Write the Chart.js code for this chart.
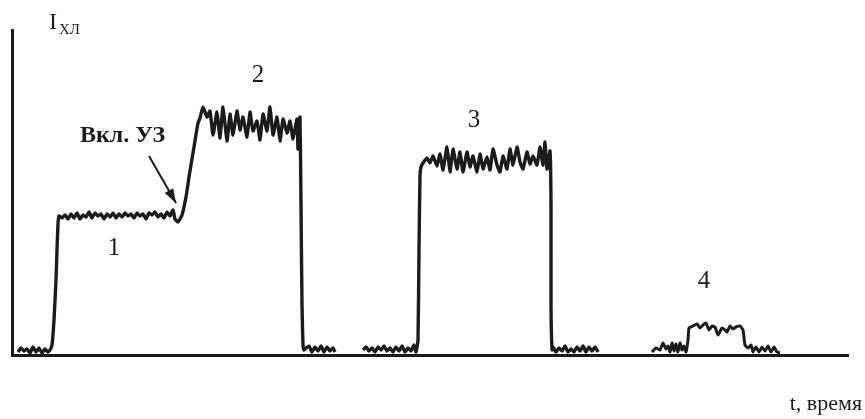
<!DOCTYPE html>
<html>
<head>
<meta charset="utf-8">
<script src="https://cdn.jsdelivr.net/npm/chart.js@4.4.0/dist/chart.umd.min.js"></script>
<style>
  html, body { margin: 0; padding: 0; background: #fff; }
  #wrap { width: 865px; height: 419px; position: relative; }
</style>
</head>
<body>
<div id="wrap"><canvas id="myChart"></canvas></div>
<script>
// trace 1 + 2: baseline, first level (1), ultrasound switched on, second level (2), back to baseline
const tPulse12 = [6, 9, 12, 15, 18, 21, 24, 27, 30, 33, 36, 38, 40, 42, 44, 45, 46, 47, 50, 53, 56, 59, 62, 65, 68, 71, 74, 77, 80, 83, 86, 89, 92, 95, 98, 101, 104, 107, 110, 113, 116, 119, 122, 125, 128, 131, 134, 137, 140, 143, 146, 149, 152, 155, 158, 161, 163, 166, 170, 174, 177, 182, 186, 188,
  191, 195, 198, 201, 205, 208, 211, 215, 218, 221, 225, 228, 231, 235, 238, 241, 245, 248, 251, 255, 258, 261, 265, 268, 271, 275, 278, 281, 285, 286, 288, 289, 290, 291, 292,
  294, 297, 300, 303, 306, 309, 312, 315, 318, 321, 323];
const iPulse12 = [3, 7, 4, 6, 2, 8, 3, 7, 2, 6, 3, 5, 10, 35, 75, 105, 131, 139, 137, 140, 136, 141, 137, 142, 136, 140, 138, 143, 137, 142, 139, 141, 136, 141, 138, 142, 137, 141, 138, 142, 139, 141, 137, 142, 139, 141, 136, 142, 140, 143, 138, 141, 137, 143, 139, 145, 136, 133, 140, 158, 178, 208, 232, 237,
  248, 238, 244, 220, 243, 217, 248, 214, 241, 220, 244, 225, 238, 218, 243, 224, 234, 215, 241, 224, 248, 220, 238, 214, 236, 222, 234, 216, 236, 206, 238, 150, 50, 10, 5,
  7, 9, 3, 8, 4, 9, 3, 8, 4, 7, 3];

// trace 3
const tPulse3 = [351, 354, 357, 360, 363, 366, 369, 372, 375, 378, 381, 384, 387, 390, 393, 396, 399, 402, 404, 406, 407, 408, 409,
  411, 415, 418, 421, 425, 428, 431, 435, 438, 441, 445, 448, 451, 455, 458, 461, 465, 468, 471, 475, 478, 481, 485, 488, 491, 495, 498, 501, 505, 508, 511, 515, 518, 521, 525, 528, 531, 533, 535, 538, 539, 539, 540,
  541, 544, 547, 550, 553, 556, 559, 562, 565, 568, 571, 574, 577, 580, 583, 586];
const iPulse3 = [5, 8, 4, 7, 3, 8, 5, 9, 4, 7, 3, 8, 4, 9, 3, 7, 4, 10, 3, 15, 105, 180, 188,
  192, 197, 192, 199, 189, 201, 185, 208, 183, 206, 186, 203, 183, 203, 188, 199, 183, 201, 186, 198, 185, 206, 190, 183, 199, 186, 206, 190, 208, 193, 186, 203, 191, 199, 190, 208, 190, 213, 186, 204, 150, 50, 5,
  8, 3, 7, 4, 9, 3, 6, 3, 8, 4, 9, 3, 8, 4, 8, 3];

// trace 4
const tPulse4 = [640, 644, 648, 651, 654, 656, 658, 660, 662, 664, 666, 668, 670, 672, 674, 676, 677, 681, 685, 688, 691, 694, 697, 700, 703, 706, 710, 713, 715, 718, 721, 724, 728, 731, 733, 736, 739, 741, 744, 747, 750, 753, 756, 759, 762, 765, 768];
const iPulse4 = [3, 7, 5, 12, 6, 9, 3, 12, 4, 11, 3, 12, 5, 9, 3, 15, 27, 29, 31, 27, 30, 32, 25, 29, 28, 20, 27, 25, 23, 29, 26, 28, 29, 25, 10, 7, 10, 3, 8, 3, 8, 4, 9, 3, 8, 3, 2];

const pulseLabels = ["1", "2", "3", "4"];
const axisNameY = "I";
const axisNameYSub = "ХЛ";
const axisNameX = "t, время";
const switchLabel = "Вкл. УЗ";

function toPoints(ts, is) {
  return ts.map((t, k) => ({ x: t, y: is[k] }));
}

const lineStyle = {
  borderColor: "#1b1b1b",
  borderWidth: 3.4,
  pointRadius: 0,
  tension: 0.15,
  fill: false
};

const data = {
  datasets: [
    { data: toPoints(tPulse12, iPulse12), ...lineStyle },
    { data: toPoints(tPulse3, iPulse3), ...lineStyle },
    { data: toPoints(tPulse4, iPulse4), ...lineStyle, borderWidth: 3 }
  ]
};

// text and arrow, placed in data units
const notes = {
  id: "notes",
  afterDraw(chart) {
    const ctx = chart.ctx;
    const sx = chart.scales.x;
    const sy = chart.scales.y;
    const px = v => sx.getPixelForValue(v);
    const py = v => sy.getPixelForValue(v);

    ctx.save();
    ctx.fillStyle = "#1b1b1b";
    ctx.textBaseline = "alphabetic";

    ctx.font = "25px 'Liberation Serif'";
    ctx.textAlign = "center";
    const spots = [[102, 100], [246, 273], [462, 228], [692, 67]];
    pulseLabels.forEach((s, k) => ctx.fillText(s, px(spots[k][0]), py(spots[k][1])));

    ctx.textAlign = "left";
    ctx.font = "24px 'Liberation Serif'";
    ctx.fillText(axisNameY, 49, 29);
    ctx.font = "15px 'Liberation Serif'";
    ctx.fillText(axisNameYSub, 59, 34);

    ctx.font = "22px 'Liberation Serif'";
    ctx.textAlign = "right";
    ctx.fillText(axisNameX, 862, 410);

    ctx.font = "bold 24px 'Liberation Serif'";
    ctx.textAlign = "left";
    ctx.fillText(switchLabel, 80, 142);

    // arrow to the switch-on point
    const x0 = px(137), y0 = py(199);
    const x1 = px(164), y1 = py(152);
    ctx.strokeStyle = "#1b1b1b";
    ctx.lineWidth = 2;
    ctx.beginPath();
    ctx.moveTo(x0, y0);
    ctx.lineTo(x1, y1);
    ctx.stroke();
    const a = Math.atan2(y1 - y0, x1 - x0);
    ctx.beginPath();
    ctx.moveTo(x1, y1);
    ctx.lineTo(x1 - 15 * Math.cos(a - 0.33), y1 - 15 * Math.sin(a - 0.33));
    ctx.lineTo(x1 - 15 * Math.cos(a + 0.33), y1 - 15 * Math.sin(a + 0.33));
    ctx.closePath();
    ctx.fill();
    ctx.restore();
  }
};

const config = {
  type: "line",
  data,
  options: {
    responsive: true,
    maintainAspectRatio: false,
    animation: false,
    layout: { padding: { left: 12, right: 17, top: 30, bottom: 64 } },
    plugins: { legend: { display: false }, tooltip: { enabled: false } },
    scales: {
      x: {
        type: "linear",
        min: 0,
        max: 836,
        ticks: { display: false },
        grid: { display: false, drawTicks: false },
        border: { display: true, color: "#1b1b1b", width: 3 }
      },
      y: {
        type: "linear",
        min: 0,
        max: 325,
        ticks: { display: false },
        grid: { display: false, drawTicks: false },
        border: { display: true, color: "#1b1b1b", width: 3 }
      }
    }
  },
  plugins: [notes]
};

new Chart(document.getElementById("myChart"), config);
</script>
</body>
</html>
